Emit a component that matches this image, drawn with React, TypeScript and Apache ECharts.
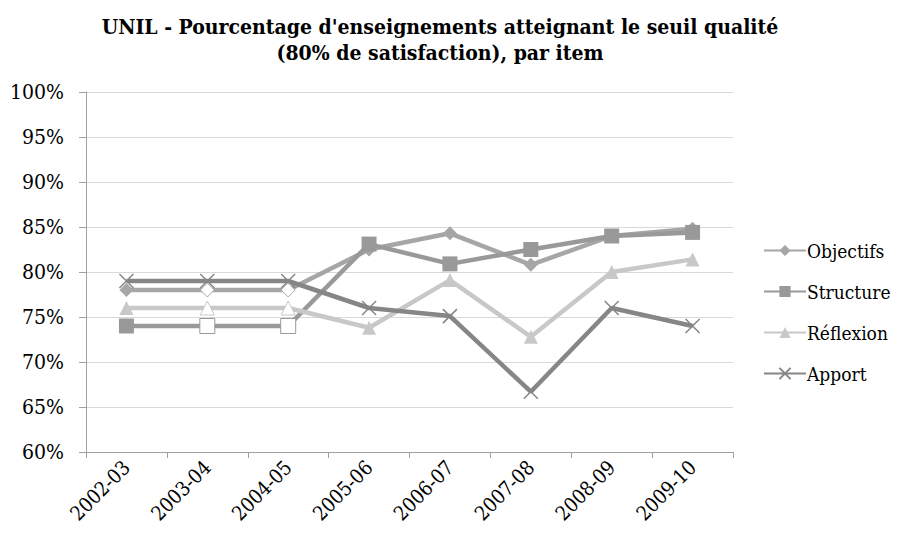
import React, { useEffect, useRef } from "react";
import * as echarts from "echarts";

const categories = ["2002-03", "2003-04", "2004-05", "2005-06", "2006-07", "2007-08", "2008-09", "2009-10"];
const objectifs = [78, 78, 78, 82.5, 84.3, 80.8, 84.0, 84.8];
const structure = [74, 74, 74, 83.1, 80.9, 82.5, 84.0, 84.4];
const reflexion = [76, 76, 76, 73.8, 79.1, 72.8, 80.0, 81.4];
const apport = [79, 79, 79, 76.0, 75.1, 66.7, 76.0, 74.0];
const hollowIdx = [1, 2];

const FONT = "DejaVu Serif Condensed, DejaVu Serif";
const CROSS = "path://M0,0L10,10M10,0L0,10";

function mk(name: string, values: number[], color: string, symbol: string, size: number) {
  const isCross = symbol === CROSS;
  return {
    name,
    type: "line",
    data: values.map((v, i) =>
      hollowIdx.includes(i) && !isCross
        ? { value: v, itemStyle: { color: "#ffffff", borderColor: color, borderWidth: 1 } }
        : { value: v }
    ),
    symbol,
    symbolSize: size,
    showAllSymbol: true,
    lineStyle: { color, width: 4.5 },
    itemStyle: { color, borderColor: color, borderWidth: isCross ? 1.5 : 0 },
    emphasis: { disabled: true },
  };
}

export default function App() {
  const ref = useRef<HTMLDivElement>(null);
  useEffect(() => {
    if (!ref.current) return;
    const chart = echarts.init(ref.current, undefined, { renderer: "svg" });
    chart.setOption({
      animation: false,
      backgroundColor: "#ffffff",
      textStyle: { fontFamily: FONT },
      title: {
        text: "UNIL - Pourcentage d'enseignements atteignant le seuil qualité\n(80% de satisfaction), par item",
        left: 435,
        top: 8,
        textAlign: "center",
        textStyle: { fontFamily: FONT, fontSize: 21, fontWeight: "bold", color: "#000", lineHeight: 26 },
      },
      legend: {
        orient: "vertical",
        left: 758,
        top: 236,
        itemWidth: 42,
        itemHeight: 14,
        itemGap: 22,
        textStyle: { fontFamily: FONT, fontSize: 19, color: "#000", padding: [0, 0, 0, -4] },
        data: ["Objectifs", "Structure", "Réflexion", "Apport"],
      },
      grid: { left: 86, right: 174, top: 92, bottom: 89, containLabel: false },
      xAxis: {
        type: "category",
        data: categories,
        boundaryGap: true,
        axisLine: { lineStyle: { color: "#a0a0a0", width: 1 } },
        axisTick: { show: true, length: 6, lineStyle: { color: "#a0a0a0" } },
        axisLabel: { rotate: 45, fontFamily: FONT, fontSize: 20, color: "#000", margin: 12 },
      },
      yAxis: {
        type: "value",
        min: 60,
        max: 100,
        interval: 5,
        axisLine: { show: true, lineStyle: { color: "#a0a0a0" } },
        axisTick: { show: true, length: 7, lineStyle: { color: "#a0a0a0" } },
        splitLine: { lineStyle: { color: "#d9d9d9", width: 1 } },
        axisLabel: { formatter: "{value}%", fontFamily: FONT, fontSize: 21, color: "#000", margin: 22 },
      },
      series: [
        mk("Objectifs", objectifs, "#a6a6a6", "diamond", 14),
        mk("Structure", structure, "#999999", "rect", 15),
        mk("Réflexion", reflexion, "#c8c8c8", "triangle", 14),
        mk("Apport", apport, "#868686", CROSS, 14),
      ],
    });
    return () => chart.dispose();
  }, []);
  return <div ref={ref} style={{ width: 907, height: 541, position: "absolute", left: 0, top: 0 }} />;
}
